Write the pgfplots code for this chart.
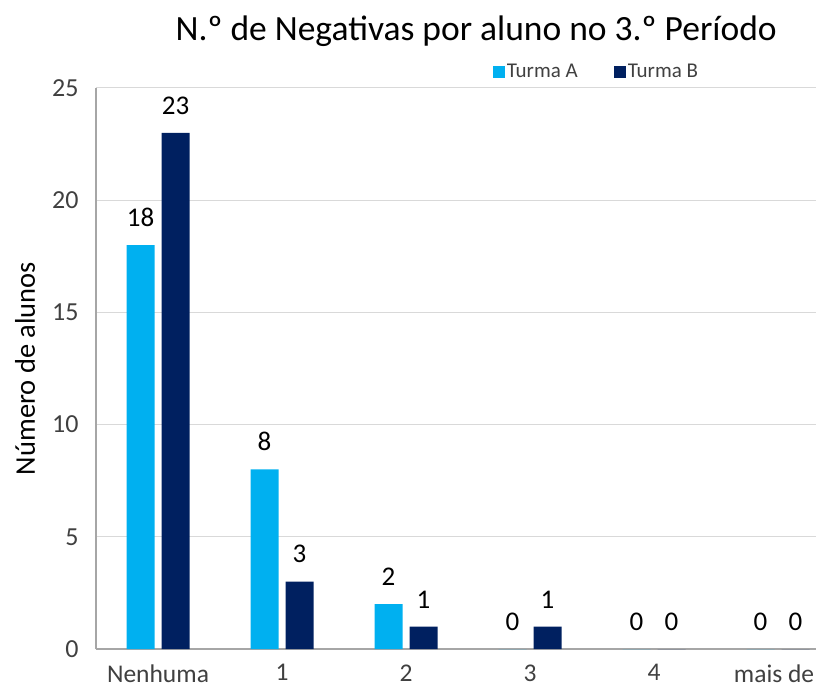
\documentclass[border=0pt]{standalone}
\usepackage{fontspec}
\setmainfont{Carlito}
\usepackage{pgfplots}
\pgfplotsset{compat=1.18}

\definecolor{turmaA}{HTML}{00B0F0}
\definecolor{turmaB}{HTML}{002060}
\definecolor{gridgray}{HTML}{D9D9D9}
\definecolor{axisgray}{HTML}{A6A6A6}
\definecolor{labelgray}{HTML}{404040}

\begin{document}
\begin{tikzpicture}
% page size: 816 x 691, axis box at (96,88)-(816,649) in picture pixels
\useasboundingbox (-96pt,-42pt) rectangle (720pt,649pt);
\begin{axis}[
  at={(0,0)}, anchor=south west,
  scale only axis, width=720pt, height=561pt,
  ybar, bar width=28pt,
  xmin=-0.5, xmax=5.306, ymin=0, ymax=25,
  xtick={0,1,2,3,4,5},
  xticklabels={Nenhuma,1,2,3,4,mais de\hspace*{8pt}},
  ytick={0,5,10,15,20,25},
  major tick length=0pt,
  ymajorgrids, grid style={gridgray, line width=1pt},
  axis x line*=bottom, axis y line*=left,
  x axis line style={axisgray, line width=1.2pt, -},
  y axis line style={axisgray, line width=1.2pt, -},
  /pgf/number format/assume math mode=true,
  xticklabel style={font=\fontsize{25.5}{28}\selectfont, labelgray, yshift=-12pt},
  yticklabel style={font=\fontsize{26}{28}\selectfont, labelgray, xshift=-14pt},
  nodes near coords,
  every node near coord/.append style={font=\fontsize{27}{28}\selectfont, black, yshift=15pt},
  legend columns=2,
  legend style={draw=none, fill=none, at={(0.695,1.0285)}, anchor=center,
    font=\fontsize{21}{24}\selectfont, text=labelgray,
    /tikz/every even column/.append style={column sep=34pt}},
  legend image code/.code={\fill[#1] (0pt,-6pt) rectangle (12pt,6pt);},
  clip=false,
]
\addplot[fill=turmaA, draw=none, bar shift=-17.5pt] coordinates {
  (0,18) (1,8) (2,2) (3,0) (4,0) (5,0)
};
\addplot[fill=turmaB, draw=none, bar shift=17.5pt] coordinates {
  (0,23) (1,3) (2,1) (3,1) (4,0) (5,0)
};
\legend{Turma A, Turma B}
\node[font=\fontsize{35.5}{38}\selectfont, anchor=center] at ([yshift=57pt]rel axis cs:0.528,1) {N.º de Negativas por aluno no 3.º Período};
\node[font=\fontsize{28.5}{30}\selectfont, rotate=90, anchor=center] at ([xshift=-71pt]rel axis cs:0,0.5) {Número de alunos};
\end{axis}
\end{tikzpicture}
\end{document}
